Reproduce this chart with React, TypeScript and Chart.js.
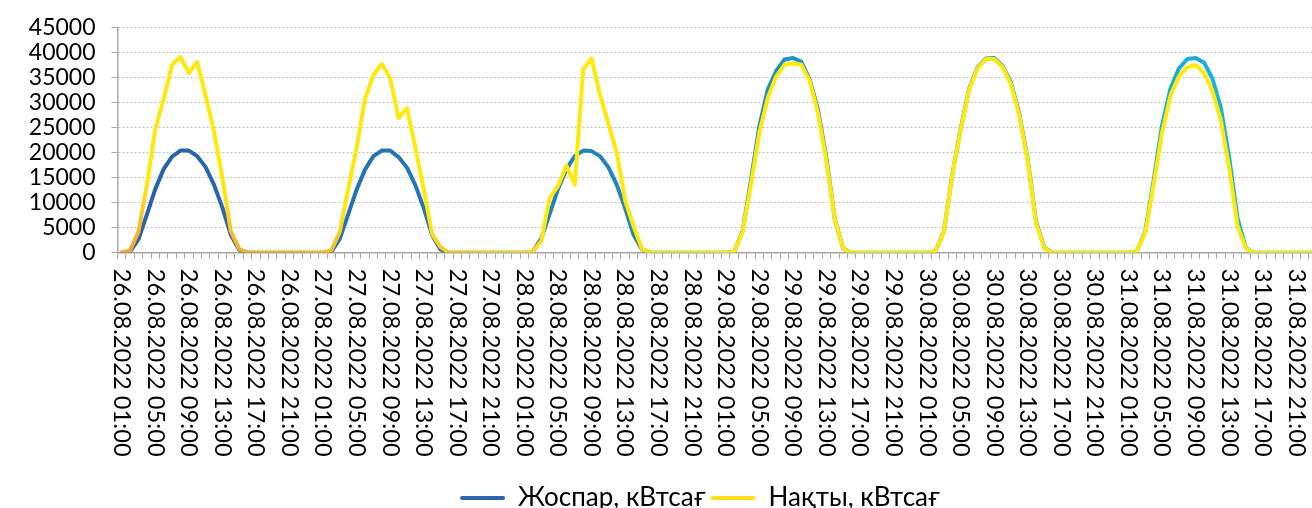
import React, { useEffect, useRef } from 'react';
import { Chart, registerables } from 'chart.js';

Chart.register(...registerables);

// ---------- data ----------
const DATES = ['26.08.2022', '27.08.2022', '28.08.2022', '29.08.2022', '30.08.2022', '31.08.2022', '01.09.2022'];
const HOURS = [
  '01:00', '02:00', '03:00', '04:00', '05:00', '06:00', '07:00', '08:00', '09:00', '10:00', '11:00', '12:00',
  '13:00', '14:00', '15:00', '16:00', '17:00', '18:00', '19:00', '20:00', '21:00', '22:00', '23:00', '00:00',
];
const CATEGORIES: string[] = [];
for (let d = 0; d < 6; d++) {
  for (let h = 0; h < 24; h++) {
    CATEGORIES.push(`${h === 23 ? DATES[d + 1] : DATES[d]} ${HOURS[h]}`);
  }
}
const LABEL_EVERY = 4;

const Y_MIN = 0;
const Y_MAX = 45000;
const Y_STEP = 5000;

// Plan (Жоспар), per day, hours 01:00 .. 24:00
const PLAN_26 = [0, 200, 2700, 7600, 12700, 16700, 19200, 20400, 20400, 19300, 17100, 13600, 9000, 3600, 600, 0, 0, 0, 0, 0, 0, 0, 0, 0];
const PLAN_27 = [0, 200, 2800, 7700, 12600, 16600, 19300, 20400, 20400, 19100, 17000, 13500, 8900, 3500, 600, 0, 0, 0, 0, 0, 0, 0, 0, 0];
const PLAN_28 = [0, 200, 2800, 7700, 12700, 16700, 19300, 20400, 20300, 19300, 17100, 13600, 8900, 3600, 700, 0, 0, 0, 0, 0, 0, 0, 0, 0];
const PLAN_29 = [0, 200, 4300, 14500, 25300, 32600, 36300, 38600, 38900, 38200, 34600, 28500, 18800, 6600, 800, 0, 0, 0, 0, 0, 0, 0, 0, 0];
const PLAN_30 = [0, 300, 4300, 15700, 24800, 32800, 37000, 38800, 38900, 37300, 34000, 27600, 18500, 6000, 900, 0, 0, 0, 0, 0, 0, 0, 0, 0];
const PLAN_31 = [0, 300, 4300, 14500, 25500, 32800, 36800, 38700, 38900, 38000, 34800, 29000, 19000, 6800, 900, 0, 0, 0, 0, 0, 0, 0, 0, 0];

// Actual (Нақты), per day
const FACT_26 = [0, 400, 4200, 13500, 24600, 30700, 37500, 39100, 35900, 38100, 31400, 24300, 15000, 4300, 800, 0, 0, 0, 0, 0, 0, 0, 0, 0];
const FACT_27 = [0, 500, 4200, 12700, 21000, 30700, 35500, 37700, 34900, 26900, 28900, 20900, 12700, 3700, 1100, 0, 0, 0, 0, 0, 0, 0, 0, 0];
const FACT_28 = [0, 300, 2300, 10900, 13300, 17400, 13600, 36600, 38800, 31600, 25800, 20100, 10500, 5300, 800, 0, 0, 0, 0, 0, 0, 0, 0, 0];
const FACT_29 = [0, 200, 4200, 13700, 24000, 30900, 35200, 37600, 37800, 37600, 34300, 27800, 18200, 6600, 800, 0, 0, 0, 0, 0, 0, 0, 0, 0];
const FACT_30 = [0, 300, 4200, 15600, 24600, 32600, 36800, 38700, 38700, 37100, 33600, 27200, 18200, 5700, 800, 0, 0, 0, 0, 0, 0, 0, 0, 0];
const FACT_31 = [0, 300, 4000, 13700, 24000, 31400, 35200, 37100, 37500, 35900, 32300, 26500, 16900, 5300, 800, 0, 0, 0, 0, 0, 0, 0, 0, 0];

const PLAN = [...PLAN_26, ...PLAN_27, ...PLAN_28, ...PLAN_29, ...PLAN_30, ...PLAN_31];
const FACT = [...FACT_26, ...FACT_27, ...FACT_28, ...FACT_29, ...FACT_30, ...FACT_31];

const SERIES_NAMES = ['Жоспар, кВтсағ', 'Нақты, кВтсағ'];

// ---------- style ----------
const FONT = 'Lato';
const AXIS_FONT_SIZE = 23;
const XLABEL_FONT_SIZE = 23.7;
const LEGEND_FONT_SIZE = 26;
const TEXT_COLOR = '#000000';
const AXIS_COLOR = '#A6A6A6';
const GRID_COLOR = '#BDBDBD';
const LEGEND_COLORS = ['#2B67AD', '#FFDD1F'];

const blueGradient = (context: any) => {
  const chart = context.chart;
  const area = chart.chartArea;
  if (!area) return LEGEND_COLORS[0];
  const g = chart.ctx.createLinearGradient(area.left, 0, 1312, 0);
  g.addColorStop(0, '#2860A8');
  g.addColorStop(0.5, '#1F8CC6');
  g.addColorStop(1, '#16B8DF');
  return g;
};

const yellowGradient = (context: any) => {
  const chart = context.chart;
  const area = chart.chartArea;
  if (!area) return LEGEND_COLORS[1];
  const g = chart.ctx.createLinearGradient(area.left, area.bottom, area.left + 10.5, area.bottom - 78.6);
  g.addColorStop(0, '#EFA334');
  g.addColorStop(0.45, '#F7C127');
  g.addColorStop(0.8, '#FFDF1C');
  g.addColorStop(1, '#FFE90A');
  return g;
};

const xLabelPlugin = {
  id: 'xLabelsClockwise',
  afterDraw(chart: any) {
    const sc = chart.scales.x;
    const c = chart.ctx;
    c.save();
    c.font = `${XLABEL_FONT_SIZE}px ${FONT}`;
    c.fillStyle = TEXT_COLOR;
    c.textAlign = 'left';
    c.textBaseline = 'middle';
    CATEGORIES.forEach((lab, i) => {
      if (i % LABEL_EVERY !== 0) return;
      const x = sc.getPixelForValue(i);
      c.save();
      c.translate(x, sc.top + 16);
      c.rotate(Math.PI / 2);
      c.fillText(lab, 0, 0);
      c.restore();
    });
    c.restore();
  },
};

export default function App() {
  const ref = useRef<HTMLCanvasElement>(null);

  useEffect(() => {
    document.body.style.margin = '0';
    Chart.defaults.font.family = FONT;
    Chart.defaults.font.size = AXIS_FONT_SIZE;
    Chart.defaults.color = TEXT_COLOR;

    const chart = new Chart(ref.current as HTMLCanvasElement, {
      type: 'line',
      data: {
        labels: CATEGORIES,
        datasets: [
          {
            label: SERIES_NAMES[0],
            data: PLAN,
            borderColor: blueGradient,
            backgroundColor: LEGEND_COLORS[0],
            borderWidth: 4,
            pointRadius: 0,
            tension: 0,
            fill: false,
            borderJoinStyle: 'round',
            borderCapStyle: 'round',
            order: 1,
          },
          {
            label: SERIES_NAMES[1],
            data: FACT,
            borderColor: yellowGradient,
            backgroundColor: LEGEND_COLORS[1],
            borderWidth: 4,
            pointRadius: 0,
            tension: 0,
            fill: false,
            borderJoinStyle: 'round',
            borderCapStyle: 'round',
            order: 0,
          },
        ],
      },
      options: {
        animation: false,
        responsive: true,
        maintainAspectRatio: false,
        layout: { padding: { left: 20, right: 0, top: 19, bottom: 0 } },
        plugins: {
          tooltip: { enabled: false },
          legend: {
            position: 'bottom',
            labels: {
              boxWidth: 45,
              boxHeight: 4,
              padding: 5,
              useBorderRadius: true,
              borderRadius: 2,
              color: TEXT_COLOR,
              font: { family: FONT, size: LEGEND_FONT_SIZE },
              generateLabels: (ch: any) => {
                const items = Chart.defaults.plugins.legend.labels.generateLabels(ch);
                return items
                  .sort((a: any, b: any) => a.datasetIndex - b.datasetIndex)
                  .map((it: any) => ({
                    ...it,
                    fillStyle: LEGEND_COLORS[it.datasetIndex],
                    strokeStyle: LEGEND_COLORS[it.datasetIndex],
                    lineWidth: 0,
                    borderRadius: 2,
                  }));
              },
            },
          },
        },
        scales: {
          x: {
            type: 'category',
            offset: true,
            grid: {
              display: true,
              drawOnChartArea: false,
              drawTicks: true,
              tickLength: 6,
              tickColor: AXIS_COLOR,
              offset: true,
            },
            border: { display: true, color: AXIS_COLOR, width: 1.5 },
            ticks: { display: false, autoSkip: false },
            afterFit: (s: any) => {
              s.height = 227.3;
            },
          },
          y: {
            position: 'left',
            min: Y_MIN,
            max: Y_MAX,
            grid: {
              color: GRID_COLOR,
              lineWidth: 1,
              drawTicks: true,
              tickLength: 6,
              tickColor: AXIS_COLOR,
            },
            border: { display: true, color: AXIS_COLOR, width: 1.5, dash: [2, 2] },
            ticks: {
              stepSize: Y_STEP,
              autoSkip: false,
              padding: 16,
              color: TEXT_COLOR,
              font: { family: FONT, size: AXIS_FONT_SIZE, lineHeight: 1 },
              callback: (v: any) => String(v),
            },
            afterFit: (s: any) => {
              s.width = 97.5;
            },
          },
          y2: {
            type: 'linear',
            position: 'right',
            display: true,
            grid: { display: false, drawTicks: false },
            border: { display: false },
            ticks: { display: false },
            afterFit: (s: any) => {
              s.width = 54.3;
            },
          },
        },
      } as any,
      plugins: [xLabelPlugin],
    } as any);

    let alive = true;
    if ((document as any).fonts && (document as any).fonts.load) {
      Promise.all([
        (document as any).fonts.load(`${AXIS_FONT_SIZE}px ${FONT}`),
        (document as any).fonts.load(`${LEGEND_FONT_SIZE}px ${FONT}`),
      ]).then(() => {
        if (alive) chart.update();
      });
    }
    return () => {
      alive = false;
      chart.destroy();
    };
  }, []);

  return (
    <div
      style={{
        position: 'fixed',
        left: 0,
        top: 0,
        width: 1312,
        height: 508,
        overflow: 'hidden',
        background: '#ffffff',
      }}
    >
      <div style={{ position: 'relative', width: 1380, height: 521 }}>
        <canvas ref={ref} />
      </div>
    </div>
  );
}
